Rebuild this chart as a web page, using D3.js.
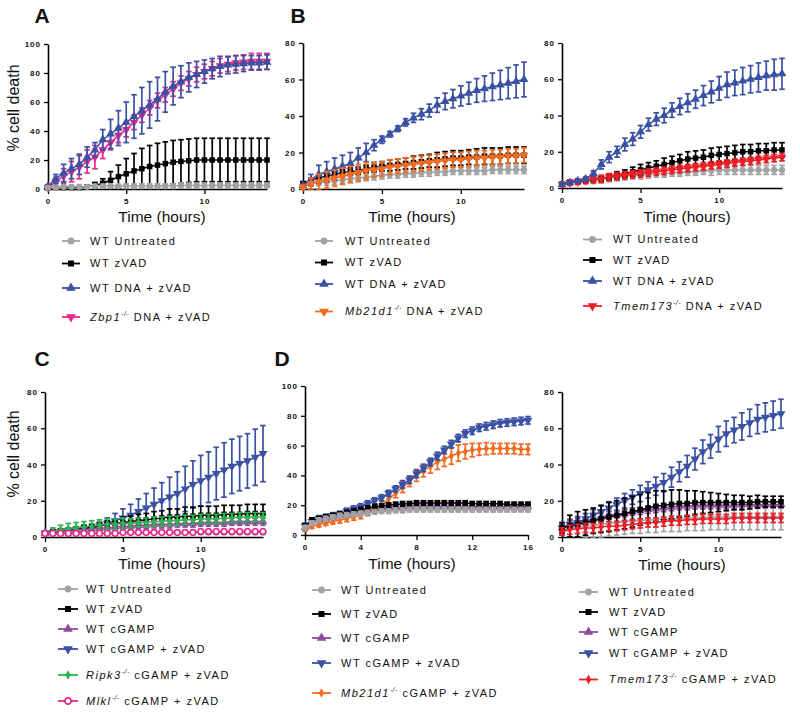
<!DOCTYPE html>
<html><head><meta charset="utf-8">
<script src="https://cdn.jsdelivr.net/npm/d3@7/dist/d3.min.js"></script>
<style>body{margin:0;background:#fff}svg{display:block}text{font-family:"Liberation Sans",Arial,sans-serif}</style>
</head><body><svg id="c" width="800" height="712"></svg>
<script>
// ---------- time points ----------
const t14 = [0,0.5,1,1.5,2,2.5,3,3.5,4,4.5,5,5.5,6,6.5,7,7.5,8,8.5,9,9.5,10,10.5,11,11.5,12,12.5,13,13.5,14];
const t16 = [0,0.5,1,1.5,2,2.5,3,3.5,4,4.5,5,5.5,6,6.5,7,7.5,8,8.5,9,9.5,10,10.5,11,11.5,12,12.5,13,13.5,14,14.5,15,15.5,16];

// ---------- Panel A ----------
const A_unt   = [1,1,1.5,1.5,1.5,1.5,2,2,2,2,2,2,2,2,2,2,2,2.5,2.5,2.5,2.5,2.5,2.5,2.5,2.5,2.5,2.5,2.5,2.5];
const A_unt_e = [1,1,1,1,1,1,1,1,1,1,1.5,1.5,1.5,1.5,1.5,1.5,1.5,1.5,1.5,1.5,1.5,1.5,1.5,1.5,1.5,1.5,1.5,1.5,1.5];
const A_zvad   = [1,1,1,1,1,1.5,2.5,4,6,8.5,10.5,12.5,14,15.5,16.5,17.5,18.5,19,19.5,20,20,20,20,20,20,20,20,20,20];
const A_zvad_e = [0.5,0.5,0.5,0.5,0.5,1,2,3,6,8,10.5,12,14,14.5,15,15,15,15,15,15,15,15,15,15,15,15,15,15,15];
const A_dna   = [2,7,11,14,17,22,27,34,38,42,46,50,54,58,62,67,71,74,77,79,81,83,84.5,85.5,86,86.5,87,87,87.5];
const A_dna_e = [1,3,6,7,7,7,5,7,10,12,14,15,16,16,15,14,13,11,10,9,8,7,7,6,6,5.5,5,5,5];
const A_zbp   = [1,5,9,12,15,19,22,27,32,37,41,46,51,56,61,65,69,73,76,79,81,83,85,86,87,87.5,88,88,88];
const A_zbp_e = [1,3,5,7,8,8,8,6,5,5,5,5,5,5,5,5,5,5,5,5,5,5,5,5,5,5,5.5,5.5,5.5];

// ---------- Panel B (left) ----------
const B1_unt   = [2,3,3.5,4,4.5,5,5.5,6,6.5,7,7.5,8,8,8.5,8.5,9,9,9.5,9.5,10,10,10,10,10,10.5,10.5,10.5,10.5,10.5];
const B1_unt_e = [1,1.5,1.5,2,2,2,2,2,2,2,2,2,2,2,2,2,2,2,2,2,2,2,2,2,2,2,2,2,2];
const B1_zvad   = [3,5,6,7,8,9,9.5,10,11,12,12.5,13,13.5,14,14.5,15,15.5,16,16.5,17,17,17.5,17.5,18,18,18,18.5,18.5,18.5];
const B1_zvad_e = [1,1,1,1,1.5,1.5,2,2,2,2.5,2.5,3,3,3,3.5,3.5,3.5,4,4,4,4,4,4.5,4.5,4.5,4.5,4.5,4.5,4.5];
const B1_dna   = [2,5,8,9.5,11,12.5,14,17,20,24,27,30,33,36.5,39,41,43,46,48,49.5,51,52.5,54,55,56,57,58,59,60];
const B1_dna_e = [1,3,5,5.5,6,6,6,5.5,5,3,2,1.5,1.5,2,2.5,3,3.5,4,4.5,5,5.5,6,6.5,7,7.5,8,8.5,9,9.5];
const B1_mb   = [1,3,4,5,6,7,8,9,10,10.5,11,12,12.5,13,13.5,14,14.5,15,15.5,16,16,16.5,17,17,17.5,17.5,18,18,18.5];
const B1_mb_e = [1,3,4,4.5,4.5,4.5,4.5,4.5,4.5,4,4,4,4,4,4,4,4,4,4,4,4,4,4,4,4,4,4,4,4];

// ---------- Panel B (right) ----------
const B2_unt   = [2,3,3.5,4,4.5,5,5.5,6,6.5,7,7,7.5,8,8,8.5,8.5,9,9,9.5,9.5,10,10,10,10,10,10,10,10,10];
const B2_unt_e = [1,1,1.5,1.5,2,2,2,2,2,2,2,2,2,2,2,2,2,2,2,2.5,2.5,2.5,2.5,2.5,2.5,2.5,2.5,2.5,2.5];
const B2_zvad   = [2,3,3.5,4,4.5,5,6,7,8,9,10,11,12,13,14,15,16,16.5,17,18,18.5,19,19.5,20,20,20.5,20.5,21,21];
const B2_zvad_e = [0.5,0.5,0.5,0.5,1,1,1.5,2,2,2.5,3,3,3,3.5,3.5,3.5,4,4,4,4,4,4,4,4,4,4,4,4,4];
const B2_dna   = [2,3,4,5,8,13,17,20,24,27,31,35,38,40,43,45,47,49,51,53,55,57,58,59,60,61,62,62.5,63];
const B2_dna_e = [0.5,1,1,1,1.5,2.5,3,3,3.5,3.5,3.5,3.5,3.5,4,4,4.5,5,5,5.5,6,6.5,7,7,7.5,7.5,8,8,8.5,8.5];
const B2_tm   = [2,3,3.5,4,4.5,5,6,6.5,7,7.5,8,8.5,9,9.5,10,10.5,11,11.5,12,12.5,13,13.5,14,14.5,15,15.5,16,16.5,17];
const B2_tm_e = [1,1.5,1.5,1.5,1.5,2,2,2,2,2,2,2,2,2,2,2,2,2,2,2,2,2,2,2,2,2,2,2,2];

// ---------- Panel C ----------
const C_unt   = [2,2,2,2,2,2,2,2,2.5,2.5,2.5,2.5,2.5,2.5,2.5,2.5,2.5,2.5,2.5,2.5,2.5,2.5,2.5,2.5,2.5,2.5,2.5,2.5,2.5];
const C_unt_e = [1,1,1,1,1,1,1,1,1,1,1,1,1,1,1,1,1,1,1,1,1,1,1,1,1,1,1,1,1];
const C_zvad   = [2,3,3.5,4,4.5,5,5.5,6,7,7.5,8,8.5,9,9.5,10,10.5,11,11,11.5,11.5,12,12,12,12.5,12.5,12.5,13,13,13];
const C_zvad_e = [1,1,1,1,1,1.5,1.5,2,2,2.5,3,3,3.5,3.5,4,4,4.5,4.5,5,5,5,5,5,5,5,5,5,5,5];
const C_cg   = [2,2.5,3,3.5,4,4,4.5,5,5,5.5,6,6,6.5,6.5,7,7,7,7.5,7.5,7.5,8,8,8,8,8.5,8.5,8.5,8.5,8.5];
const C_cg_e = [1,1,1,1.5,1.5,1.5,1.5,2,2,2,2,2,2,2,2,2,2,2,2,2,2,2,2,2,2,2,2,2,2];
const C_cgz   = [2,2.5,3,3.5,4,4.5,5,6,7.5,9,10.5,12,14,16,18,20,22,24,26.5,29,31,33,35,37,39,40.5,42,44,46];
const C_cgz_e = [1,1,1,1,1,1,1,2,3,4,5,6,7,8,9,10,11,12,12.5,13,14,14,14.5,15,15,15,15,15.5,15.5];
const C_rip   = [2,3,4,4.5,5,5.5,6,6.5,7,7,7.5,7.5,8,8,8.5,8.5,9,9,9.5,9.5,10,10,10,10.5,10.5,11,11,11,11];
const C_rip_e = [1,2,2.5,3,3,3,3,3,3,3,3,2.5,2.5,2.5,2.5,2.5,2.5,2.5,2.5,2.5,2.5,2.5,2.5,2.5,2.5,2.5,2.5,2.5,2.5];
const C_mlkl   = [2,2,2,2,2,2,2,2,2,2,2.5,2.5,2.5,2.5,2.5,2.5,2.5,2.5,2.5,2.5,3,3,3,3,3,3,3,3,3];
const C_mlkl_e = [1,1,1,1,1,1,1,1,1,1,1,1,1,1,1,1,1,1,1,1,1,1,1,1,1,1,1,1,1];

// ---------- Panel D (left, 0-16 h) ----------
const D1_unt   = [5,8,10,11,12,13,13.5,14,14.5,15,15.5,16,16,16.5,16.5,17,17,17,17,17,17,17,17,17,17,17,17,17,17,17,17,17,17];
const D1_unt_e = [1.5,1.5,1.5,1.5,1.5,1.5,1.5,1.5,1.5,1.5,1.5,1.5,1.5,1.5,1.5,1.5,1.5,1.5,1.5,1.5,1.5,1.5,1.5,1.5,1.5,1.5,1.5,1.5,1.5,1.5,1.5,1.5,1.5];
const D1_zvad   = [6,10,11,12,13,14,15,16,17,18,19,19.5,20,20.5,21,21,21.5,21.5,21.5,21.5,21.5,21.5,21.5,21.5,21,21,21,21,21,20.5,20.5,20.5,20.5];
const D1_zvad_e = [1.5,1.5,1.5,1.5,1.5,1.5,1.5,1.5,1.5,1.5,1.5,1.5,1.5,1.5,1.5,1.5,1.5,1.5,1.5,1.5,1.5,1.5,1.5,1.5,1.5,1.5,1.5,1.5,1.5,1.5,1.5,1.5,1.5];
const D1_cg   = [5,8,10,11,12,13,14,15,16,16.5,17,17.5,18,18,18.5,18.5,19,19,19,19,19,19,19,19,19,19,19,19,19,19,19,19,19];
const D1_cg_e = [1.5,1.5,1.5,1.5,1.5,1.5,1.5,1.5,1.5,1.5,1.5,1.5,1.5,1.5,1.5,1.5,1.5,1.5,1.5,1.5,1.5,1.5,1.5,1.5,1.5,1.5,1.5,1.5,1.5,1.5,1.5,1.5,1.5];
const D1_cgz   = [6,9,11,12,13,14,16,17.5,19,21,23,25,28,31,34,37,41,45,49,53,57,61,65,68,70,72,73,74,75,75.5,76,76.5,77];
const D1_cgz_e = [2,2,2,2,2,2,2,2,2,2,2,2,2,2,2.5,2.5,2.5,2.5,2.5,2.5,2.5,2.5,2.5,2.5,2.5,2.5,2.5,2.5,2.5,2.5,2.5,2.5,2.5];
const D1_mb   = [4,6,7,8,9,10,11,12,13,15,17,20,24,28,32,36,40,43,46,49,51,53,55,56,57,57.5,58,58,58,58,58,57.5,57.5];
const D1_mb_e = [1.5,1.5,1.5,1.5,1.5,2,2,2,2,2,2,2.5,3,3,3.5,3.5,4,4,4.5,5,5,5.5,5.5,5,4.5,4,4,3.5,3.5,3.5,3.5,3.5,3.5];

// ---------- Panel D (right) ----------
const D2_unt   = [4,5,5.5,6,6.5,7,7.5,8,8.5,9,9,9.5,9.5,10,10,10,10.5,10.5,10.5,11,11,11,11,11,11,11,11,11,11];
const D2_unt_e = [3,5,6,6.5,7,7,7,7,7,7,7,7,7,7,7,7,7,7,7,7,7,7,7,7,7,7,7,7,7];
const D2_zvad   = [5,6,7,8,9,10,11,12,13,14,15,16,17,17.5,18,18.5,18.5,19,19,19,19,19,19,19,19,19.5,19.5,19.5,19.5];
const D2_zvad_e = [3,6,7,7,7,7.5,8,8,8.5,8.5,8.5,8.5,8.5,8,8,7.5,7,6.5,6,5.5,5,4.5,4,4,3.5,3.5,3,3,3];
const D2_cg   = [5,7,8,9,10,11,12,12.5,13,14,14.5,15,15.5,16,16.5,17,17,17.5,17.5,17.5,17.5,17.5,17.5,18,18,18,18,18,18];
const D2_cg_e = [2,2,2,2,2,2,2,2,2,2,2,2,2,2,2,2,2,2,2,2,2,2,2,2,2,2,2,2,2];
const D2_cgz   = [5,7,8,10,12,14,16,18,20,22,24,26,28,30,33,36,39,43,47,50,54,57,59,61,63,65,66,67,68];
const D2_cgz_e = [2,2.5,3,3,3,3,3.5,3.5,4,4,4.5,4.5,5,5,5.5,5.5,6,6,6.5,6.5,7,7,7,7.5,7.5,8,8,8,8];
const D2_tm   = [3,4,4.5,5,5,5.5,6,6,6.5,7,7.5,8,8,8.5,9,9,9.5,9.5,10,10,10,10,10.5,10.5,10.5,10.5,10.5,10.5,10.5];
const D2_tm_e = [2,2.5,2.5,2.5,2.5,2.5,2.5,2.5,2.5,2.5,2.5,2.5,2.5,2.5,2.5,2.5,2.5,2.5,2.5,2.5,2.5,2.5,2.5,2.5,2.5,2.5,2.5,2.5,2.5];

// ---------- labels ----------
const legA  = ["WT Untreated","WT zVAD","WT DNA + zVAD","Zbp1-/- DNA + zVAD"];
const legB1 = ["WT Untreated","WT zVAD","WT DNA + zVAD","Mb21d1-/- DNA + zVAD"];
const legB2 = ["WT Untreated","WT zVAD","WT DNA + zVAD","Tmem173-/- DNA + zVAD"];
const legC  = ["WT Untreated","WT zVAD","WT cGAMP","WT cGAMP + zVAD","Ripk3-/- cGAMP + zVAD","Mlkl-/- cGAMP + zVAD"];
const legD1 = ["WT Untreated","WT zVAD","WT cGAMP","WT cGAMP + zVAD","Mb21d1-/- cGAMP + zVAD"];
const legD2 = ["WT Untreated","WT zVAD","WT cGAMP","WT cGAMP + zVAD","Tmem173-/- cGAMP + zVAD"];
const ticks14 = [0,5,10], ticks16 = [0,4,8,12,16];
const yt100 = [0,20,40,60,80,100], yt80 = [0,20,40,60,80];

const C = {gray:'#a2a2a2', black:'#000000', blue:'#3a51a3', magenta:'#e8278c', orange:'#f26b22', red:'#ee1c25', purple:'#8e4b9d', green:'#2cb34b'};

const svg = d3.select('#c');

function symPath(shape, size){
  const m = {circle:d3.symbolCircle, square:d3.symbolSquare, tri:d3.symbolTriangle, tridown:d3.symbolTriangle, diamond:d3.symbolDiamond, ocircle:d3.symbolCircle};
  return d3.symbol().type(m[shape]).size(size)();
}
function drawMarker(g, shape, color, cx, cy, size){
  const p = g.append('path').attr('d', symPath(shape,size))
    .attr('transform', `translate(${cx},${cy})` + (shape==='tridown' ? ' rotate(180)' : ''));
  if(shape==='ocircle') p.attr('fill','#fff').attr('stroke',color).attr('stroke-width',1.7);
  else p.attr('fill',color);
}
const SZ = {circle:30, square:30, tri:34, tridown:34, diamond:22, ocircle:26};

function legendText(g, x, y, label){
  const t = g.append('text').attr('x',x).attr('y',y).attr('dy','0.35em')
    .attr('font-size',11).attr('letter-spacing','1.5px').attr('fill','#111');
  const m = label.match(/^(\S+)-\/-(.*)$/);
  if(m){
    t.append('tspan').attr('font-style','italic').text(m[1]);
    t.append('tspan').attr('font-size',7).attr('dy',-5).attr('font-style','italic').attr('letter-spacing','0.5px').text('-/-');
    t.append('tspan').attr('dy',5).text(m[2]);
  } else t.text(label);
}

function drawPanel(p){
  const x = d3.scaleLinear().domain(p.xd).range([p.x0, p.x1]);
  const y = d3.scaleLinear().domain(p.yd).range([p.y0, p.y1]);
  const g = svg.append('g');
  const ya = g.append('g').attr('transform',`translate(${p.x0},0)`)
    .call(d3.axisLeft(y).tickValues(p.yt).tickSize(4).tickSizeOuter(0).tickPadding(3));
  const xa = g.append('g').attr('transform',`translate(0,${p.y0})`)
    .call(d3.axisBottom(x).tickValues(p.xt).tickSize(5).tickSizeOuter(0).tickPadding(4));
  [ya,xa].forEach(a=>{
    a.select('.domain').attr('stroke','#000').attr('stroke-width',1.6);
    a.selectAll('.tick line').attr('stroke','#000').attr('stroke-width',1.3);
    a.selectAll('.tick text').attr('font-size',8).attr('font-weight','bold')
      .attr('font-family','"Liberation Sans",Arial,sans-serif').attr('letter-spacing','1px').attr('fill','#111');
  });
  const plot = g.append('g');
  p.order.forEach(i=>{
    const s = p.series[i];
    const sg = plot.append('g');
    const pts = p.t.map((tt,k)=>({t:tt, v:s.v[k], e:s.e[k]}));
    sg.append('path').datum(pts).attr('fill','none').attr('stroke',s.c).attr('stroke-width',1.5)
      .attr('d', d3.line().x(d=>x(d.t)).y(d=>y(d.v)));
    const eb = sg.append('g').attr('stroke',s.c).attr('stroke-width',1.7).attr('fill','none');
    pts.forEach(d=>{
      const xx = x(d.t), yh = y(d.v+d.e), yl = y(Math.max(0,d.v-d.e));
      eb.append('line').attr('x1',xx).attr('x2',xx).attr('y1',yh).attr('y2',yl);
      eb.append('line').attr('x1',xx-2.8).attr('x2',xx+2.8).attr('y1',yh).attr('y2',yh);
      eb.append('line').attr('x1',xx-2.8).attr('x2',xx+2.8).attr('y1',yl).attr('y2',yl);
    });
    pts.forEach(d=> drawMarker(sg, s.m, s.c, x(d.t), y(d.v), SZ[s.m]));
  });
  // axis titles
  g.append('text').attr('x',p.xl[0]).attr('y',p.xl[1]).attr('dy','0.35em').attr('text-anchor','middle')
    .attr('font-size',15.5).attr('fill','#111').text('Time (hours)');
  if(p.yl) g.append('text').attr('transform',`translate(${p.yl[0]},${p.yl[1]}) rotate(-90)`)
    .attr('text-anchor','middle').attr('font-size',16).attr('fill','#111').text('% cell death');
  if(p.tag) g.append('text').attr('x',p.tag[1]).attr('y',p.tag[2]).attr('dy','0.36em').attr('text-anchor','middle')
    .attr('font-size',21).attr('font-weight','bold').attr('fill','#111').text(p.tag[0]);
  // legend
  const lg = g.append('g');
  p.legend.forEach((lab,i)=>{
    const s = p.series[i], yy = p.leg.rows[i];
    lg.append('line').attr('x1',p.leg.sx).attr('x2',p.leg.sx+p.leg.sw).attr('y1',yy).attr('y2',yy)
      .attr('stroke',s.c).attr('stroke-width',1.8);
    drawMarker(lg, s.m, s.c, p.leg.sx+p.leg.sw/2, yy, SZ[s.m]*1.2);
    legendText(lg, p.leg.tx, yy, lab);
  });
}

drawPanel({x0:48,x1:267,y0:189,y1:44,xd:[0,14],yd:[0,100],xt:ticks14,yt:yt100,t:t14,
  series:[{v:A_unt,e:A_unt_e,c:C.gray,m:'circle'},{v:A_zvad,e:A_zvad_e,c:C.black,m:'square'},
          {v:A_dna,e:A_dna_e,c:C.blue,m:'tri'},{v:A_zbp,e:A_zbp_e,c:C.magenta,m:'tridown'}],
  order:[3,2,1,0], legend:legA, leg:{sx:62,sw:18,tx:90,rows:[241,263.5,288,317]},
  xl:[162,217], yl:[19,108], tag:['A',42,15]});

drawPanel({x0:303,x1:524,y0:189,y1:43,xd:[0,14],yd:[0,80],xt:ticks14,yt:yt80,t:t14,
  series:[{v:B1_unt,e:B1_unt_e,c:C.gray,m:'circle'},{v:B1_zvad,e:B1_zvad_e,c:C.black,m:'square'},
          {v:B1_dna,e:B1_dna_e,c:C.blue,m:'tri'},{v:B1_mb,e:B1_mb_e,c:C.orange,m:'tridown'}],
  order:[0,1,2,3], legend:legB1, leg:{sx:315,sw:18,tx:345,rows:[241,262.5,284,311.5]},
  xl:[412,217], yl:null, tag:['B',298,15]});

drawPanel({x0:562,x1:782,y0:188,y1:43,xd:[0,14],yd:[0,80],xt:ticks14,yt:yt80,t:t14,
  series:[{v:B2_unt,e:B2_unt_e,c:C.gray,m:'circle'},{v:B2_zvad,e:B2_zvad_e,c:C.black,m:'square'},
          {v:B2_dna,e:B2_dna_e,c:C.blue,m:'tri'},{v:B2_tm,e:B2_tm_e,c:C.red,m:'tridown'}],
  order:[0,1,3,2], legend:legB2, leg:{sx:583,sw:19,tx:613,rows:[239.5,260,281,306]},
  xl:[687,217], yl:null, tag:null});

drawPanel({x0:45,x1:263,y0:537,y1:392,xd:[0,14],yd:[0,80],xt:ticks14,yt:yt80,t:t14,
  series:[{v:C_unt,e:C_unt_e,c:C.gray,m:'circle'},{v:C_zvad,e:C_zvad_e,c:C.black,m:'square'},
          {v:C_cg,e:C_cg_e,c:C.purple,m:'tri'},{v:C_cgz,e:C_cgz_e,c:C.blue,m:'tridown'},
          {v:C_rip,e:C_rip_e,c:C.green,m:'diamond'},{v:C_mlkl,e:C_mlkl_e,c:C.magenta,m:'ocircle'}],
  order:[3,1,2,0,4,5], legend:legC, leg:{sx:58,sw:20,tx:86,rows:[589,609,629,649,675,701]},
  xl:[162,564], yl:[19,454], tag:['C',42,358]});

drawPanel({x0:305,x1:528,y0:535,y1:386,xd:[0,16],yd:[0,100],xt:ticks16,yt:yt100,t:t16,
  series:[{v:D1_unt,e:D1_unt_e,c:C.gray,m:'circle'},{v:D1_zvad,e:D1_zvad_e,c:C.black,m:'square'},
          {v:D1_cg,e:D1_cg_e,c:C.purple,m:'tri'},{v:D1_cgz,e:D1_cgz_e,c:C.blue,m:'tridown'},
          {v:D1_mb,e:D1_mb_e,c:C.orange,m:'diamond'}],
  order:[2,4,3,1,0], legend:legD1, leg:{sx:312,sw:19,tx:341,rows:[590,614,638,663,693]},
  xl:[412,564], yl:null, tag:['D',282,358]});

drawPanel({x0:562,x1:781,y0:537,y1:392,xd:[0,14],yd:[0,80],xt:ticks14,yt:yt80,t:t14,
  series:[{v:D2_unt,e:D2_unt_e,c:C.gray,m:'circle'},{v:D2_zvad,e:D2_zvad_e,c:C.black,m:'square'},
          {v:D2_cg,e:D2_cg_e,c:C.purple,m:'tri'},{v:D2_cgz,e:D2_cgz_e,c:C.blue,m:'tridown'},
          {v:D2_tm,e:D2_tm_e,c:C.red,m:'diamond'}],
  order:[0,2,3,1,4], legend:legD2, leg:{sx:579,sw:19,tx:609,rows:[592,612,632,653,679.5]},
  xl:[682,565], yl:null, tag:null});
</script>
</body></html>
